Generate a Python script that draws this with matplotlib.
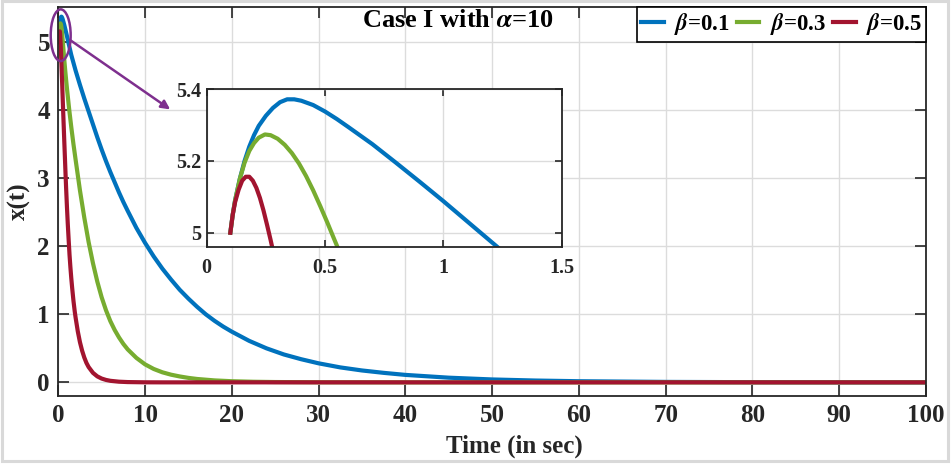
import matplotlib
matplotlib.use("Agg")
import matplotlib.pyplot as plt
from matplotlib.patches import Ellipse, Rectangle

plt.rcParams['font.family'] = ['Liberation Serif', 'DejaVu Serif']
plt.rcParams['font.weight'] = 'bold'
plt.rcParams['mathtext.fontset'] = 'stix'

# ---------------- data ----------------
t_b01 = [0.1, 0.11, 0.12, 0.14, 0.16, 0.18, 0.2, 0.22, 0.25, 0.28, 0.31, 0.34, 0.37,
         0.4, 0.45, 0.5, 0.55, 0.6, 0.7, 0.8, 0.9, 1.0, 1.1, 1.2, 1.3, 1.5, 2.0, 2.5,
         3.0, 3.5, 4.0, 4.5, 5.0, 5.5, 6.0, 6.5, 7.0, 7.5, 8.0, 9.0, 10, 11, 12, 13, 14,
         15, 16, 17, 18, 19, 20, 22, 24, 26, 28, 30, 32.5, 35, 37.5, 40, 45, 50, 55, 60,
         70, 80, 90, 100]
x_b01 = [5.0, 5.05, 5.09, 5.15, 5.2, 5.24, 5.272, 5.298, 5.326, 5.348, 5.364, 5.372,
         5.372, 5.368, 5.356, 5.338, 5.317, 5.294, 5.247, 5.195, 5.142, 5.088, 5.032,
         4.976, 4.92, 4.81, 4.58, 4.37, 4.17, 3.98, 3.79, 3.6, 3.42, 3.25, 3.09, 2.94,
         2.79, 2.65, 2.52, 2.27, 2.05, 1.85, 1.67, 1.51, 1.36, 1.23, 1.11, 1.0, 0.905,
         0.82, 0.745, 0.61, 0.5, 0.41, 0.34, 0.28, 0.22, 0.175, 0.14, 0.11, 0.069, 0.043,
         0.027, 0.017, 0.007, 0.003, 0.0012, 0.0005]

t_b03 = [0.1, 0.11, 0.12, 0.14, 0.16, 0.18, 0.2, 0.22, 0.246, 0.27, 0.3, 0.33, 0.36,
         0.39, 0.42, 0.45, 0.48, 0.51, 0.54, 0.6, 0.7, 0.8, 0.9, 1.0, 1.25, 1.5, 1.75,
         2.0, 2.5, 3.0, 3.5, 4.0, 4.5, 5.0, 5.5, 6.0, 6.5, 7.0, 7.5, 8.0, 9.0, 10, 11,
         12, 13, 14, 15, 16, 18, 20, 22.5, 25, 30, 40, 100]
x_b03 = [5.0, 5.05, 5.09, 5.15, 5.195, 5.228, 5.25, 5.265, 5.274, 5.272, 5.262,
         5.245, 5.222, 5.193, 5.158, 5.118, 5.074, 5.028, 4.98, 4.885, 4.73, 4.585,
         4.45, 4.32, 4.02, 3.75, 3.5, 3.27, 2.82, 2.42, 2.06, 1.75, 1.48, 1.25, 1.06,
         0.9, 0.77, 0.66, 0.565, 0.485, 0.36, 0.265, 0.197, 0.148, 0.113, 0.087, 0.066,
         0.05, 0.029, 0.017, 0.009, 0.005, 0.0015, 0.0002, 0.0]

t_b05 = [0.1, 0.11, 0.12, 0.135, 0.15, 0.165, 0.18, 0.195, 0.21, 0.225, 0.24, 0.255,
         0.27, 0.285, 0.3, 0.35, 0.4, 0.45, 0.5, 0.56, 0.63, 0.7, 0.77, 0.83, 0.9, 1.0,
         1.1, 1.2, 1.3, 1.4, 1.5, 1.6, 1.75, 1.9, 2.0, 2.25, 2.5, 2.75, 3.0, 3.25, 3.5,
         4.0, 4.5, 5.0, 5.5, 6.0, 7.0, 8.0, 10, 12, 100]
x_b05 = [5.0, 5.05, 5.085, 5.12, 5.145, 5.156, 5.156, 5.145, 5.125, 5.097, 5.062,
         5.022, 4.98, 4.935, 4.89, 4.73, 4.56, 4.39, 4.21, 4.0, 3.76, 3.52, 3.29, 3.09,
         2.87, 2.58, 2.32, 2.09, 1.87, 1.69, 1.53, 1.39, 1.2, 1.04, 0.95, 0.75, 0.59,
         0.465, 0.365, 0.285, 0.225, 0.14, 0.088, 0.056, 0.036, 0.023, 0.01, 0.0045,
         0.001, 0.0003, 0.0]

series_t = [t_b01, t_b03, t_b05]
series_x = [x_b01, x_b03, x_b05]
labels = [r'$\beta$=0.1', r'$\beta$=0.3', r'$\beta$=0.5']
colors = ['#0072BD', '#77AC30', '#A2142F']

x_ticks = [0, 10, 20, 30, 40, 50, 60, 70, 80, 90, 100]
y_ticks = [0, 1, 2, 3, 4, 5]
ins_xticks = [0, 0.5, 1, 1.5]
ins_xticklabels = ['0', '0.5', '1', '1.5']
ins_yticks = [5.0, 5.2, 5.4]
ins_yticklabels = ['5', '5.2', '5.4']

dark = '#262626'
purple = '#7E2F8E'

# ---------------- figure ----------------
fig = plt.figure(figsize=(9.52, 4.65), dpi=100)
ax = fig.add_axes([0.0612, 0.1484, 0.9115, 0.8359])

lines = []
for t, x, c, lab in zip(series_t, series_x, colors, labels):
    ln, = ax.plot(t, x, color=c, lw=3.0, label=lab, solid_joinstyle='round')
    lines.append(ln)

ax.set_xlim(0, 100)
ax.set_ylim(-0.2, 5.51)
ax.set_xticks(x_ticks)
ax.set_yticks(y_ticks)
ax.grid(True, color='#dcdcdc', lw=1.0)
ax.set_axisbelow(True)
ax.tick_params(direction='in', length=8, width=1.2, top=True, right=True,
               labelsize=18, pad=6, colors=dark)
for s in ax.spines.values():
    s.set_color(dark)
    s.set_linewidth(1.3)

ax.set_xlabel('Time (in sec)', fontsize=18, fontweight='bold', color=dark)
ax.xaxis.set_label_coords(0.526, -0.1286)
ax.xaxis.label.set_va('center')
ax.set_ylabel('x(t)', fontsize=18, fontweight='bold', color=dark)
ax.yaxis.set_label_coords(-0.045, 0.5)
ax.yaxis.label.set_va('center')

ax.text(46.07, 5.226, r'Case I with $\alpha$=10', ha='center', va='baseline',
        fontsize=19, fontweight='bold', color='black')

leg = ax.legend(handles=lines, loc='upper right', bbox_to_anchor=(1.0, 1.0),
                borderaxespad=0, ncol=3, handlelength=1.0, handletextpad=0.45,
                columnspacing=0.3, borderpad=0.18, fancybox=False, framealpha=1,
                edgecolor='black', prop={'size': 16.5, 'weight': 'bold'})
leg.get_frame().set_linewidth(1.2)

ell = Ellipse((0.28, 5.10), width=2.3, height=0.76, fill=False, ec=purple, lw=1.8,
              clip_on=False, zorder=5)
ax.add_patch(ell)
ax.annotate('', xy=(12.9, 4.01), xytext=(1.35, 5.03),
            arrowprops=dict(arrowstyle='-|>', color=purple, lw=1.8, mutation_scale=13,
                            shrinkA=0, shrinkB=0))

# ---------------- inset ----------------
axi = fig.add_axes([0.2171, 0.468, 0.3729, 0.340])
for t, x, c in zip(series_t, series_x, colors):
    axi.plot(t, x, color=c, lw=3.0, solid_joinstyle='round')
axi.set_xlim(0, 1.5)
axi.set_ylim(4.959, 5.4)
axi.set_xticks(ins_xticks)
axi.set_xticklabels(ins_xticklabels)
axi.set_yticks(ins_yticks)
axi.set_yticklabels(ins_yticklabels)
axi.grid(True, color='#dcdcdc', lw=1.0)
axi.set_axisbelow(True)
axi.tick_params(direction='in', length=5, width=1.2, top=True, right=True,
                labelsize=14.5, colors=dark)
axi.tick_params(axis='x', pad=8)
axi.tick_params(axis='y', pad=4)
for s in axi.spines.values():
    s.set_color(dark)
    s.set_linewidth(1.3)

fig.patches.append(Rectangle((0.0018, 0.0086), 0.9943, 0.9884, transform=fig.transFigure,
                             fill=False, ec='#d9d9d9', lw=2.2))

fig.savefig('out.png', dpi=100)
